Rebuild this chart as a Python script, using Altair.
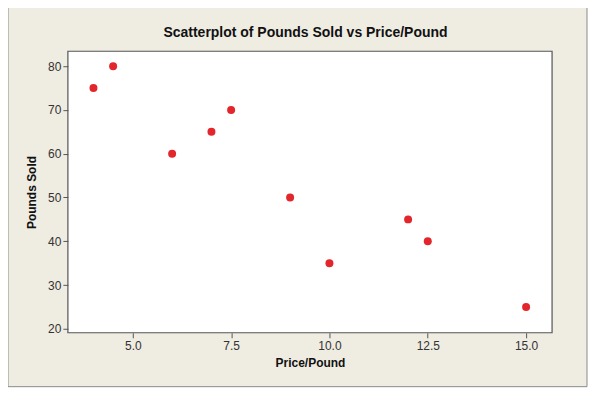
import altair as alt
import pandas as pd

price = [4.0, 4.5, 6.0, 7.0, 7.5, 9.0, 10.0, 12.0, 12.5, 15.0]
pounds = [75, 80, 60, 65, 70, 50, 35, 45, 40, 25]
x_ticks = [5.0, 7.5, 10.0, 12.5, 15.0]
y_ticks = [20, 30, 40, 50, 60, 70, 80]
title_text = ["Scatterplot of Pounds Sold vs Price/Pound"]

df = pd.DataFrame({"Price/Pound": price, "Pounds Sold": pounds})
tdf = pd.DataFrame({"t": title_text})

FONT = "Liberation Sans"

points = alt.Chart(df).mark_circle(size=64, color="#E3262B", opacity=1).encode(
    x=alt.X("Price/Pound:Q",
            scale=alt.Scale(domain=[3.35, 15.66], nice=False, zero=False),
            axis=alt.Axis(values=x_ticks, format=".1f", title="Price/Pound", grid=False,
                          tickSize=5, tickColor="#555555", domain=False, zindex=2,
                          labelColor="#333333", labelFontSize=12, labelFont=FONT, labelPadding=3,
                          titleFont=FONT, titleFontSize=12, titleFontWeight="bold",
                          titleColor="#111111", titlePadding=6)),
    y=alt.Y("Pounds Sold:Q",
            scale=alt.Scale(domain=[19.1, 83.4], nice=False, zero=False),
            axis=alt.Axis(values=y_ticks, format="d", title="Pounds Sold", grid=False,
                          tickSize=5, tickColor="#555555", domain=False, zindex=2,
                          labelColor="#333333", labelFontSize=12, labelFont=FONT, labelPadding=2,
                          titleFont=FONT, titleFontSize=12, titleFontWeight="bold",
                          titleColor="#111111", titlePadding=9)),
)

frame = alt.Chart(tdf).mark_rect(fill="#EFECE2", stroke="#8a8a8a", strokeWidth=1, clip=False).encode(
    x=alt.value(-60), x2=alt.value(520), y=alt.value(-45), y2=alt.value(336)
)

plotbg = alt.Chart(tdf).mark_rect(fill="white", stroke="#555555", strokeWidth=1.2, clip=False).encode(
    x=alt.value(0), x2=alt.value(485), y=alt.value(0), y2=alt.value(282)
)

title = alt.Chart(tdf).mark_text(font=FONT, fontSize=14, fontWeight="bold", color="#111111",
                                 align="center", baseline="middle", clip=False).encode(
    text="t:N", x=alt.value(238), y=alt.value(-18)
)

chart = alt.layer(frame, plotbg, title, points).properties(
    width=485, height=282,
    autosize=alt.AutoSizeParams(type="none"),
    padding={"left": 60, "top": 43, "right": 40, "bottom": 57},
).configure(background="white").configure_view(
    fill="white", stroke=None
)

chart.save("out.html", embed_options={"renderer": "svg", "actions": False})
